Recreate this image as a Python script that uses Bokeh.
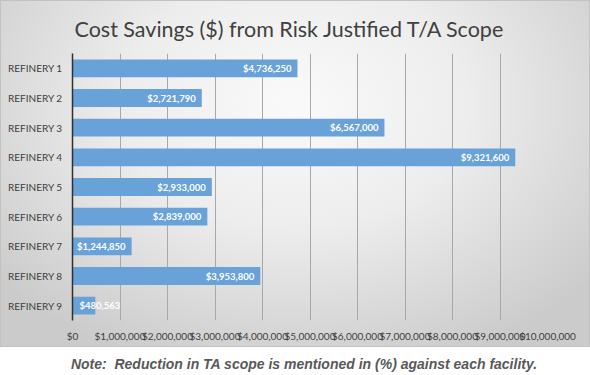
from bokeh.plotting import figure
from bokeh.models import ColumnDataSource, NumeralTickFormatter, FixedTicker, Range1d, Div, InlineStyleSheet
from bokeh.layouts import column
from bokeh.embed import file_html
from bokeh.resources import INLINE
from bokeh.core.properties import value

categories = ["REFINERY 1", "REFINERY 2", "REFINERY 3", "REFINERY 4", "REFINERY 5",
              "REFINERY 6", "REFINERY 7", "REFINERY 8", "REFINERY 9"]
savings = [4736250, 2721790, 6567000, 9321600, 2933000, 2839000, 1244850, 3953800, 480563]
x_ticks = [0, 1000000, 2000000, 3000000, 4000000, 5000000, 6000000, 7000000, 8000000, 9000000, 10000000]

title_text = "Cost Savings ($) from Risk Justified T/A Scope"
note_text = "Note:&nbsp; Reduction in TA scope is mentioned in (%) against each facility."

labels = ["${:,}".format(v) for v in savings]
fits = [v > 1000000 for v in savings]
lx = [v if f else 0 for v, f in zip(savings, fits)]
lalign = ["right" if f else "left" for f in fits]
loff = [-6 if f else 7 for f in fits]

src = ColumnDataSource(dict(cat=categories, val=savings, lab=labels, lx=lx, al=lalign, off=loff))

W = 590
FL, FW, FT, FH = 72, 475, 53, 267

grad_css = (":host { background: radial-gradient(ellipse 65% 80% at 50% 30%, "
            "#fafafa 0%, #ededed 45%, #cbcbcb 100%) !important; "
            "box-shadow: inset 0 0 0 1px #c2c2c2; }")

p = figure(frame_width=FW, frame_height=FH, y_range=list(reversed(categories)),
           x_range=Range1d(0, 10000000), output_backend="svg", toolbar_location=None,
           min_border_left=FL, min_border_right=W - FL - FW, min_border_top=FT,
           min_border_bottom=27, stylesheets=[InlineStyleSheet(css=grad_css)])

p.background_fill_alpha = 0
p.border_fill_alpha = 0
p.outline_line_color = None

p.title.text = title_text
p.title.align = "left"
p.title.text_font = "Lato"
p.title.text_font_size = "21.5px"
p.title.text_font_style = "normal"
p.title.text_color = "#404040"
p.title.offset = 2
p.title.standoff = 24

p.hbar(y="cat", right="val", left=0, height=0.6, source=src, color="#68A2D9", line_color=None)
p.text(x="lx", y="cat", text="lab", source=src, text_align="al", x_offset="off",
       text_baseline="middle", text_color="white", text_font=value("Lato"),
       text_font_size="9.5px", text_font_style="bold")

p.xaxis.ticker = FixedTicker(ticks=x_ticks)
p.xaxis.formatter = NumeralTickFormatter(format="$0,0")
p.xaxis.axis_line_color = None
p.xaxis.major_tick_line_color = None
p.xaxis.minor_tick_line_color = None
p.xaxis.major_label_text_font = "Lato"
p.xaxis.major_label_text_font_size = "10px"
p.xaxis.major_label_text_color = "#404040"
p.xaxis.major_label_standoff = 3

p.yaxis.axis_line_color = "#303030"
p.yaxis.axis_line_width = 1.5
p.yaxis.major_tick_line_color = None
p.yaxis.minor_tick_line_color = None
p.yaxis.major_label_text_font = "Lato"
p.yaxis.major_label_text_font_size = "10px"
p.yaxis.major_label_text_color = "#404040"
p.yaxis.major_label_standoff = 4

p.xgrid.grid_line_color = "#a8a8a8"
p.xgrid.ticker = FixedTicker(ticks=x_ticks)
p.ygrid.grid_line_color = None

note = Div(text=note_text, width=W, height=27,
           styles={"font-family": "Liberation Sans, Arial", "font-style": "italic",
                   "font-weight": "bold", "font-size": "14px", "color": "#595959",
                   "text-align": "center", "width": f"{W}px", "padding-top": "2px",
                   "padding-left": "8px", "box-sizing": "border-box",
                   "background": "#ffffff"})

layout = column(p, note, spacing=0)
open("out.html", "w").write(file_html(layout, INLINE))
